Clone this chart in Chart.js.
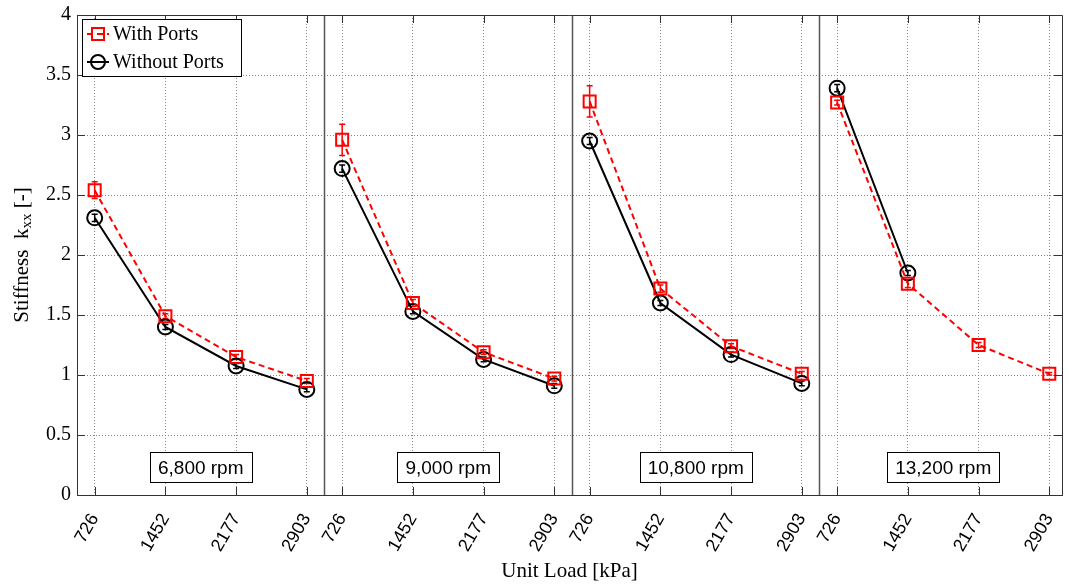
<!DOCTYPE html>
<html>
<head>
<meta charset="utf-8">
<script src="https://cdn.jsdelivr.net/npm/chart.js@4"></script>
<style>
  body { margin: 0; background: #fff; }
  canvas { display: block; }
</style>
</head>
<body>
<canvas id="grafico" width="1069" height="584"></canvas>
<script>
// unit load categories, repeated in each speed panel
const cargas = ['726', '1452', '2177', '2903']
const velocidades = ['6,800 rpm', '9,000 rpm', '10,800 rpm', '13,200 rpm']

// stiffness kxx, one row per speed
const conPuertos = [
    [2.54, 1.49, 1.15, 0.95],
    [2.96, 1.60, 1.19, 0.97],
    [3.28, 1.72, 1.24, 1.01],
    [3.27, 1.76, 1.25, 1.01]
]
const sinPuertos = [
    [2.31, 1.40, 1.075, 0.88],
    [2.72, 1.53, 1.13, 0.91],
    [2.95, 1.60, 1.17, 0.93],
    [3.39, 1.85, null, null]
]
// half length of the error bars
const errConPuertos = [
    [0.07, 0.02, 0.02, 0.02],
    [0.13, 0.03, 0.02, 0.02],
    [0.13, 0.03, 0.02, 0.02],
    [0.02, 0.03, 0.02, 0.01]
]
const errSinPuertos = [
    [0.03, 0.02, 0.02, 0.02],
    [0.03, 0.02, 0.02, 0.02],
    [0.03, 0.02, 0.02, 0.02],
    [0.03, 0.02, null, null]
]
const yTicks = [0, 0.5, 1, 1.5, 2, 2.5, 3, 3.5, 4]

const SERIF = '"Liberation Serif", "DejaVu Serif", serif'
const SANS = '"Liberation Sans", Arial, sans-serif'
const PASO = 3.5 // x shift from one panel to the next

const posX = (p, i) => p * PASO + i

// points of a series with a null between panels so lines break
const armarSerie = (valores) => {
    const puntos = []
    valores.forEach((fila, p) => {
        fila.forEach((v, i) => puntos.push({ x: posX(p, i), y: v }))
        if (p < valores.length - 1) puntos.push({ x: posX(p, 3.25), y: null })
    })
    return puntos
}

const posTicks = []
velocidades.forEach((_, p) => cargas.forEach((_, i) => posTicks.push(posX(p, i))))

const extras = {
    id: 'extras',
    beforeDatasetsDraw(chart) {
        const { ctx, chartArea: a, scales: { x, y } } = chart
        ctx.save()
        // panel separators
        ctx.strokeStyle = '#555'
        ctx.lineWidth = 1.5
        for (let p = 0; p < velocidades.length - 1; p++) {
            const px = Math.round(x.getPixelForValue(posX(p, 3.25))) + 0.5
            ctx.beginPath()
            ctx.moveTo(px, a.top)
            ctx.lineTo(px, a.bottom)
            ctx.stroke()
        }
        // error bars
        const barras = (valores, errores, color) => {
            ctx.strokeStyle = color
            ctx.lineWidth = 1.5
            valores.forEach((fila, p) => fila.forEach((v, i) => {
                const e = errores[p][i]
                if (v === null || !e) return
                const px = x.getPixelForValue(posX(p, i))
                const y1 = y.getPixelForValue(v + e)
                const y2 = y.getPixelForValue(v - e)
                ctx.beginPath()
                ctx.moveTo(px, y1); ctx.lineTo(px, y2)
                ctx.moveTo(px - 3, y1); ctx.lineTo(px + 3, y1)
                ctx.moveTo(px - 3, y2); ctx.lineTo(px + 3, y2)
                ctx.stroke()
            }))
        }
        barras(conPuertos, errConPuertos, '#ff0000')
        barras(sinPuertos, errSinPuertos, '#000')
        ctx.restore()
    },
    afterDraw(chart) {
        const { ctx, chartArea: a, scales: { x, y } } = chart
        ctx.save()
        // top and right border
        ctx.strokeStyle = '#333'
        ctx.lineWidth = 1
        ctx.beginPath()
        ctx.moveTo(a.left, a.top + 0.5)
        ctx.lineTo(a.right + 0.5, a.top + 0.5)
        ctx.lineTo(a.right + 0.5, a.bottom)
        ctx.stroke()
        // inner tick marks
        ctx.beginPath()
        posTicks.forEach((t) => {
            const px = Math.round(x.getPixelForValue(t)) + 0.5
            ctx.moveTo(px, a.bottom); ctx.lineTo(px, a.bottom - 8)
            ctx.moveTo(px, a.top); ctx.lineTo(px, a.top + 8)
        })
        yTicks.forEach((t) => {
            const py = Math.round(y.getPixelForValue(t)) + 0.5
            ctx.moveTo(a.left, py); ctx.lineTo(a.left + 8, py)
            ctx.moveTo(a.right, py); ctx.lineTo(a.right - 8, py)
        })
        ctx.stroke()

        // rpm boxes
        ctx.font = '19px ' + SANS
        ctx.textBaseline = 'middle'
        ctx.textAlign = 'center'
        velocidades.forEach((txt, p) => {
            const cx = x.getPixelForValue(posX(p, 1.5))
            const cy = y.getPixelForValue(0.23)
            const w = ctx.measureText(txt).width + 16
            ctx.fillStyle = '#fff'
            ctx.fillRect(cx - w / 2, cy - 15, w, 30)
            ctx.strokeStyle = '#000'
            ctx.strokeRect(Math.round(cx - w / 2) + 0.5, Math.round(cy - 15) + 0.5, Math.round(w), 30)
            ctx.fillStyle = '#000'
            ctx.fillText(txt, cx, cy + 1)
        })

        // legend
        const lx = a.left + 5, ly = a.top + 4
        ctx.fillStyle = '#fff'
        ctx.fillRect(lx, ly, 159, 57)
        ctx.strokeStyle = '#000'
        ctx.strokeRect(lx + 0.5, ly + 0.5, 159, 57)
        ctx.font = '20px ' + SERIF
        ctx.textAlign = 'left'
        chart.data.datasets.forEach((ds, k) => {
            const ry = ly + 15 + k * 28
            ctx.strokeStyle = ds.borderColor
            ctx.lineWidth = 2
            ctx.setLineDash(ds.borderDash || [])
            ctx.beginPath()
            ctx.moveTo(lx + 5, ry); ctx.lineTo(lx + 27, ry)
            ctx.stroke()
            ctx.setLineDash([])
            ctx.beginPath()
            if (ds.pointStyle === 'rect') ctx.rect(lx + 10, ry - 6, 12, 12)
            else ctx.arc(lx + 16, ry, 7, 0, Math.PI * 2)
            ctx.stroke()
            ctx.fillStyle = '#000'
            ctx.fillText(ds.label, lx + 31, ry + 1)
        })

        // y title with subscript
        ctx.translate(22, (a.top + a.bottom) / 2)
        ctx.rotate(-Math.PI / 2)
        ctx.fillStyle = '#000'
        const f1 = '21px ' + SERIF, f2 = '15px ' + SERIF
        const partes = [['Stiffness  k', f1, 0], ['xx', f2, 5], [' [-]', f1, 0]]
        let ancho = 0
        partes.forEach(([t, f]) => { ctx.font = f; ancho += ctx.measureText(t).width })
        let cx = -ancho / 2
        ctx.textBaseline = 'middle'
        partes.forEach(([t, f, dy]) => {
            ctx.font = f
            ctx.fillText(t, cx, dy)
            cx += ctx.measureText(t).width
        })
        ctx.restore()
    }
}

const config = {
    type: 'line',
    data: {
        datasets: [{
            label: 'With Ports',
            data: armarSerie(conPuertos),
            borderColor: '#ff0000',
            backgroundColor: 'transparent',
            borderWidth: 2,
            borderDash: [6, 4],
            pointStyle: 'rect',
            pointRadius: 8.5,
            pointBorderWidth: 2,
            pointBorderColor: '#ff0000',
            pointBackgroundColor: 'transparent',
            spanGaps: false
        }, {
            label: 'Without Ports',
            data: armarSerie(sinPuertos),
            borderColor: '#000',
            backgroundColor: 'transparent',
            borderWidth: 2,
            pointStyle: 'circle',
            pointRadius: 7.5,
            pointBorderWidth: 2,
            pointBorderColor: '#000',
            pointBackgroundColor: 'transparent',
            spanGaps: false
        }]
    },
    options: {
        responsive: false,
        animation: false,
        devicePixelRatio: 1,
        layout: { padding: { top: 15, right: 7, left: 0, bottom: 0 }, autoPadding: false },
        plugins: { legend: { display: false }, tooltip: { enabled: false } },
        scales: {
            x: {
                type: 'linear',
                min: -0.25,
                max: 13.68,
                afterBuildTicks: (s) => { s.ticks = posTicks.map((v) => ({ value: v })) },
                afterFit: (s) => {
                    s.height = 89
                    s.paddingLeft = 0
                    s.paddingRight = 0
                },
                ticks: {
                    autoSkip: false,
                    minRotation: 60,
                    maxRotation: 60,
                    padding: 15,
                    color: '#000',
                    font: { family: SANS, size: 18 },
                    callback: (v, i) => cargas[i % cargas.length]
                },
                grid: { color: '#888', drawTicks: false, lineWidth: 1 },
                border: { color: '#333', width: 1, dash: [1, 2] },
                title: {
                    display: true,
                    text: 'Unit Load [kPa]',
                    color: '#000',
                    font: { family: SERIF, size: 21 },
                    padding: { top: 0, bottom: 0 }
                }
            },
            y: {
                min: 0,
                max: 4,
                afterBuildTicks: (s) => { s.ticks = yTicks.map((v) => ({ value: v })) },
                afterFit: (s) => {
                    s.width = 77
                    s.paddingTop = 0
                    s.paddingBottom = 0
                },
                ticks: {
                    padding: 6,
                    color: '#000',
                    font: { family: SERIF, size: 20 },
                    callback: (v) => String(v)
                },
                grid: { color: '#888', drawTicks: false, lineWidth: 1 },
                border: { color: '#333', width: 1, dash: [1, 2] }
            }
        }
    },
    plugins: [extras]
}

const chart = new Chart(document.querySelector('#grafico'), config)
</script>
</body>
</html>
